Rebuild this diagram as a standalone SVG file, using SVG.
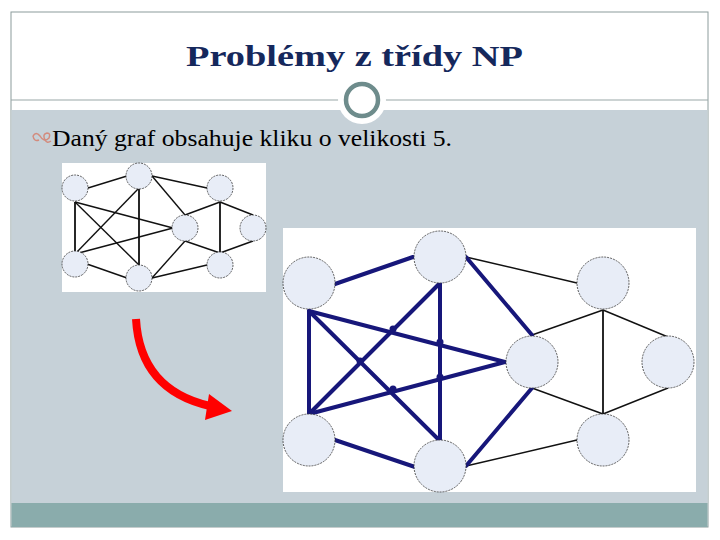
<svg xmlns="http://www.w3.org/2000/svg" width="720" height="540" viewBox="0 0 720 540">
<style>
.node{fill:#E8EDF7;stroke:#3A3A3A;stroke-width:0.8;stroke-dasharray:2 1}
.thin{stroke:#111;stroke-width:1.4;fill:none}
.thin2{stroke:#111;stroke-width:1.8;fill:none}
.blue{stroke:#17177A;stroke-width:4;fill:none;stroke-linecap:round}
.dot{fill:#17177A}
.serif{font-family:"Liberation Serif","DejaVu Serif","Times New Roman",serif}
</style>
<rect x="0" y="0" width="720" height="540" fill="#FFFFFF"/>
<g id="slide">
<rect x="11" y="12" width="697" height="515" fill="#FFFFFF" stroke="#8C9C9C" stroke-width="1"/>
<rect x="11.5" y="110" width="696" height="393" fill="#C6D1D8"/>
<rect x="11.5" y="503" width="696" height="24" fill="#8AACAC"/>
<line x1="11" y1="100" x2="708" y2="100" stroke="#9AA8A8" stroke-width="1.2"/>
<circle cx="362" cy="100" r="24" fill="#FFFFFF"/>
<circle cx="362" cy="100" r="16" fill="#FFFFFF" stroke="#6E8C8C" stroke-width="4.5"/>
</g>
<g id="title">
<text class="serif" x="186" y="66" font-weight="bold" font-size="30" fill="#15285C" textLength="337" lengthAdjust="spacingAndGlyphs">Problémy z třídy NP</text>
</g>
<g id="bullet">
<path d="M33,136 Q36,131 40,136 Q44,143 49,138 Q51,133 47,133 Q42,134 45,140 Q47,144 51,141 M33,136 Q34,142 39,140" fill="none" stroke="#D38B7D" stroke-width="1.5"/>
<text class="serif" x="52" y="146" font-size="24" fill="#000000" textLength="400" lengthAdjust="spacingAndGlyphs">Daný graf obsahuje kliku o velikosti 5.</text>
</g>
<g id="small-graph">
<rect x="62" y="163" width="204" height="129" fill="#FFFFFF"/>
<g id="small-edges">
<line class="thin" x1="88" y1="188" x2="127" y2="176"/>
<line class="thin2" x1="75" y1="202" x2="75" y2="254"/>
<line class="thin" x1="75" y1="202" x2="173" y2="228"/>
<line class="thin" x1="75" y1="202" x2="139" y2="265"/>
<line class="thin" x1="75" y1="254" x2="139" y2="188"/>
<line class="thin" x1="75" y1="254" x2="173" y2="228"/>
<line class="thin2" x1="139" y1="188" x2="139" y2="265"/>
<line class="thin" x1="152" y1="176" x2="207" y2="188"/>
<line class="thin" x1="152" y1="176" x2="185" y2="215"/>
<line class="thin" x1="185" y1="215" x2="220" y2="202"/>
<line class="thin2" x1="220" y1="202" x2="220" y2="253"/>
<line class="thin" x1="220" y1="202" x2="253" y2="215"/>
<line class="thin" x1="185" y1="241" x2="220" y2="253"/>
<line class="thin" x1="220" y1="253" x2="253" y2="241"/>
<line class="thin" x1="87" y1="264" x2="127" y2="278"/>
<line class="thin" x1="152" y1="278" x2="207" y2="265"/>
<line class="thin" x1="185" y1="241" x2="152" y2="278"/>
</g>
<g id="s-A"><circle class="node" cx="75" cy="188" r="13"/></g>
<g id="s-B"><circle class="node" cx="139" cy="176" r="13"/></g>
<g id="s-C"><circle class="node" cx="220" cy="188" r="13"/></g>
<g id="s-D"><circle class="node" cx="185" cy="228" r="13"/></g>
<g id="s-E"><circle class="node" cx="253" cy="228" r="13"/></g>
<g id="s-F"><circle class="node" cx="75" cy="264" r="13"/></g>
<g id="s-G"><circle class="node" cx="139" cy="278" r="13"/></g>
<g id="s-H"><circle class="node" cx="220" cy="265" r="13"/></g>
</g>
<g id="arrow">
<path d="M136,319 Q140,390 210,406" fill="none" stroke="#FF0000" stroke-width="8"/>
<polygon points="209,394 232,411 205,420" fill="#FF0000"/>
</g>
<g id="big-graph">
<rect x="283" y="228" width="413" height="264" fill="#FFFFFF"/>
<g id="big-edges">
<line class="thin" x1="466" y1="257" x2="577" y2="283"/>
<line class="thin" x1="532" y1="335" x2="603" y2="310"/>
<line class="thin2" x1="603" y1="310" x2="603" y2="414"/>
<line class="thin" x1="603" y1="310" x2="668" y2="337"/>
<line class="thin" x1="532" y1="388" x2="603" y2="414"/>
<line class="thin" x1="603" y1="414" x2="668" y2="388"/>
<line class="thin" x1="466" y1="466" x2="577" y2="440"/>
<line class="blue" x1="335" y1="284" x2="413" y2="257"/>
<line class="blue" x1="309" y1="311" x2="309" y2="414"/>
<line class="blue" x1="309" y1="311" x2="505" y2="362"/>
<line class="blue" x1="309" y1="311" x2="440" y2="441"/>
<line class="blue" x1="309" y1="414" x2="440" y2="283"/>
<line class="blue" x1="309" y1="414" x2="505" y2="362"/>
<line class="blue" x1="440" y1="283" x2="440" y2="441"/>
<line class="blue" x1="466" y1="257" x2="532" y2="335"/>
<line class="blue" x1="466" y1="466" x2="532" y2="388"/>
<line class="blue" x1="335" y1="440" x2="415" y2="467"/>
<circle class="dot" cx="393" cy="329" r="3.5"/>
<circle class="dot" cx="440" cy="342" r="3.5"/>
<circle class="dot" cx="360" cy="361" r="3.5"/>
<circle class="dot" cx="440" cy="377" r="3.5"/>
<circle class="dot" cx="393" cy="389" r="3.5"/>
</g>
<g id="b-A"><circle class="node" cx="309" cy="283" r="26"/></g>
<g id="b-B"><circle class="node" cx="440" cy="257" r="26"/></g>
<g id="b-C"><circle class="node" cx="603" cy="283" r="26"/></g>
<g id="b-D"><circle class="node" cx="532" cy="362" r="26"/></g>
<g id="b-E"><circle class="node" cx="668" cy="362" r="26"/></g>
<g id="b-F"><circle class="node" cx="309" cy="440" r="26"/></g>
<g id="b-G"><circle class="node" cx="440" cy="466" r="26"/></g>
<g id="b-H"><circle class="node" cx="603" cy="440" r="26"/></g>
</g>
</svg>
